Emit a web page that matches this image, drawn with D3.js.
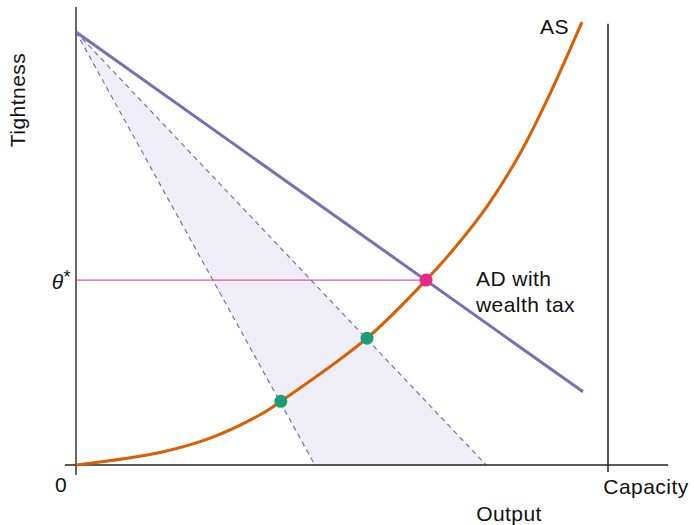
<!DOCTYPE html>
<html><head><meta charset="utf-8">
<script src="https://cdn.jsdelivr.net/npm/d3@7"></script>
<style>
html,body{margin:0;padding:0;background:#fff;}
text{font-family:"Liberation Sans",Arial,Helvetica,sans-serif;fill:#111;letter-spacing:0.45px;}
</style></head>
<body>
<svg id="chart" width="694" height="525"></svg>
<script>
// ---- data (model units: output 0..100 = capacity, tightness 0..100) ----
const asX = [0, 15.8, 25.2, 34.6, 38.5, 54.7, 65.8, 70.9, 77.3, 83.5, 88.7, 95.1];
const asY = [0, 2.9, 6.2, 11.6, 14.7, 29.3, 42.7, 49.7, 59.8, 72.0, 84.7, 102.3];
const adX = [0, 95.3];
const adY = [100, 16.9];
const dashStartX = [0, 0];
const dashStartY = [100, 100];
const dashEndX = [44.9, 77.1];
const dashEndY = [0, 0];
const greenX = [38.5, 54.7];
const greenY = [14.7, 29.3];
const eqX = [65.8];
const eqY = [42.7];
const capacityX = 100;
const xAxisExtent = [-2.1, 111.3];
const yAxisExtent = [-2.3, 105.8];
const capacityExtent = [-1.6, 101.9];

const svg = d3.select("#chart");
const x = d3.scaleLinear().domain([0, 100]).range([76, 608]);
const y = d3.scaleLinear().domain([0, 100]).range([465, 32]);

// shaded wedge between dashed lines
const wedge = [[dashStartX[0], dashStartY[0]], [dashEndX[0], dashEndY[0]], [dashEndX[1], dashEndY[1]]];
svg.append("path")
  .attr("d", d3.line().x(d => x(d[0])).y(d => y(d[1]))(wedge) + "Z")
  .attr("fill", "#efeef6").attr("stroke", "none");

// dashed lines
dashEndX.forEach((ex, i) => {
  svg.append("line")
    .attr("x1", x(dashStartX[i])).attr("y1", y(dashStartY[i]))
    .attr("x2", x(ex)).attr("y2", y(dashEndY[i]))
    .attr("stroke", "#7570b3").attr("stroke-width", 1.2)
    .attr("stroke-dasharray", "5,4");
});

// axes
svg.append("line").attr("x1", x(0)).attr("x2", x(0))
  .attr("y1", y(yAxisExtent[0])).attr("y2", y(yAxisExtent[1]))
  .attr("stroke", "#333").attr("stroke-width", 1.5);
svg.append("line").attr("x1", x(xAxisExtent[0])).attr("x2", x(xAxisExtent[1]))
  .attr("y1", y(0)).attr("y2", y(0))
  .attr("stroke", "#222").attr("stroke-width", 1.5);
svg.append("line").attr("x1", x(capacityX)).attr("x2", x(capacityX))
  .attr("y1", y(capacityExtent[0])).attr("y2", y(capacityExtent[1]))
  .attr("stroke", "#222").attr("stroke-width", 1.5);

// theta* guide line
svg.append("line").attr("x1", x(0)).attr("x2", x(eqX[0]))
  .attr("y1", y(eqY[0])).attr("y2", y(eqY[0]))
  .attr("stroke", "#e7298a").attr("stroke-width", 1);

// AD line
svg.append("line")
  .attr("x1", x(adX[0])).attr("y1", y(adY[0]))
  .attr("x2", x(adX[1])).attr("y2", y(adY[1]))
  .attr("stroke", "#7570b3").attr("stroke-width", 3);

// AS curve
const asPts = asX.map((v, i) => [v, asY[i]]);
svg.append("path")
  .attr("d", d3.line().x(d => x(d[0])).y(d => y(d[1])).curve(d3.curveCatmullRom.alpha(0.5))(asPts))
  .attr("fill", "none").attr("stroke", "#d95f02").attr("stroke-width", 3);

// dots
svg.selectAll("circle.g").data(greenX.map((v, i) => [v, greenY[i]])).enter()
  .append("circle").attr("cx", d => x(d[0])).attr("cy", d => y(d[1])).attr("r", 6.5)
  .attr("fill", "#1b9e77");
svg.selectAll("circle.e").data(eqX.map((v, i) => [v, eqY[i]])).enter()
  .append("circle").attr("cx", d => x(d[0])).attr("cy", d => y(d[1])).attr("r", 6.5)
  .attr("fill", "#e7298a");

// labels
const fs = 21;
svg.append("text").attr("x", 540).attr("y", 34).attr("font-size", fs).text("AS");
svg.append("text").attr("x", 476).attr("y", 286).attr("font-size", fs).text("AD with");
svg.append("text").attr("x", 476).attr("y", 312).attr("font-size", fs).text("wealth tax");
svg.append("text").attr("x", 61).attr("y", 492).attr("font-size", fs).attr("text-anchor", "middle").text("0");
svg.append("text").attr("x", 646).attr("y", 494).attr("font-size", fs).attr("text-anchor", "middle").text("Capacity");
svg.append("text").attr("x", 509).attr("y", 521).attr("font-size", fs).attr("text-anchor", "middle").text("Output");
svg.append("text").attr("transform", "translate(25,100) rotate(-90)").attr("font-size", fs)
  .attr("text-anchor", "middle").text("Tightness");
const th = svg.append("text").attr("x", 71).attr("y", 289).attr("font-size", fs).attr("text-anchor", "end");
th.append("tspan").attr("font-style", "italic").text("θ");
th.append("tspan").attr("dy", -6).attr("font-size", 18).text("*");
</script>
</body></html>
